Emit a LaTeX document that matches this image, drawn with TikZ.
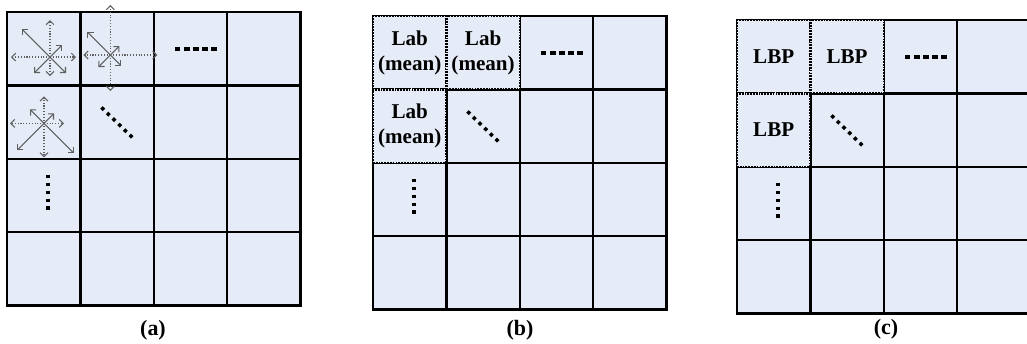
\documentclass[tikz,border=0pt]{standalone}
\usepackage{fontspec}
\setmainfont{Liberation Serif}
\usetikzlibrary{positioning, arrows.meta, calc}
\definecolor{cellfill}{RGB}{229,236,247}
\definecolor{gradgray}{RGB}{95,95,95}

\begin{document}
\begin{tikzpicture}[x=0.02cm, y=-0.02cm,
      cell/.style={draw, fill=cellfill, line width=1.3pt, minimum size=1.468cm, inner sep=0pt, outer sep=0pt},
      featcell/.style={cell, dash pattern=on 1pt off 0.6pt, align=center, font=\fontsize{12}{14.5}\selectfont\bfseries},
      dotrun/.style={line width=2pt, dash pattern=on 2pt off 2.5pt},
      dashrun/.style={line width=2pt, dash pattern=on 3.2pt off 2pt},
      gradaxis/.style={gradgray, densely dotted, line width=0.6pt, -{Straight Barb[angle=90:3.2pt]}},
      graddiag/.style={gradgray, line width=0.6pt, -{Straight Barb[angle=90:3.2pt]}},
      caption/.style={font=\fontsize{12.5}{14}\selectfont\bfseries}
    ]
    \useasboundingbox (0,0) rectangle (1027,343);

    % three 4x4 grids
    \foreach \p/\ox/\oy in {a/7/12, b/373/16, c/737/20}
      \foreach \c in {0,...,3}
        \foreach \r in {0,...,3}
          \node[cell] (\p-\c-\r) at ({\ox+36.7+73.4*\c}, {\oy+36.7+73.4*\r}) {};

    % (a) gradient stars
    \coordinate (s1) at ($(a-0-0.north west)+(43,45)$);
    \coordinate (s2) at ($(a-1-0.north west)+(30,43)$);
    \coordinate (s3) at ($(a-0-1.north west)+(37,38)$);
    \foreach \dx/\dy in {0/-37, -39/0, 26/0, 0/19}
      \draw[gradaxis] (s1) -- ++(\dx,\dy);
    \foreach \dx/\dy in {-28/-28, 12/-12, -16/16, 16/16}
      \draw[graddiag] (s1) -- ++(\dx,\dy);
    \foreach \dx/\dy in {0/-50, 0/36, -27/0, 47/0}
      \draw[gradaxis] (s2) -- ++(\dx,\dy);
    \foreach \dx/\dy in {-23/-23, 9/-9, -12/12, 11/11}
      \draw[graddiag] (s2) -- ++(\dx,\dy);
    \foreach \dx/\dy in {0/-27, -34/0, 20/0, 0/34}
      \draw[gradaxis] (s3) -- ++(\dx,\dy);
    \foreach \dx/\dy in {-14/-14, 10/-10, -27/27, 30/30}
      \draw[graddiag] (s3) -- ++(\dx,\dy);

    % (b) colour cells
    \node[featcell] (lab1) at (b-0-0) {Lab\\(mean)};
    \node[featcell] (lab2) at (b-1-0) {Lab\\(mean)};
    \node[featcell] (lab3) at (b-0-1) {Lab\\(mean)};

    % (c) texture cells
    \node[featcell] (lbp1) at (c-0-0) {LBP};
    \node[featcell] (lbp2) at (c-1-0) {LBP};
    \node[featcell] (lbp3) at (c-0-1) {LBP};

    % continuation dots
    \foreach \p in {a, b, c} {
      \draw[dashrun] ($(\p-2-0.north west)+(21,37)$) -- ($(\p-2-0.north west)+(63,37)$);
      \draw[dotrun] ($(\p-1-1.north west)+(21,22)$) -- ($(\p-1-1.north west)+(55,55)$);
      \draw[dotrun] ($(\p-0-2.north west)+(41,16)$) -- ($(\p-0-2.north west)+(41,55)$);
    }

    \node[caption] (capa) at (153,330) {(a)};
    \node[caption] (capb) at (520,330) {(b)};
    \node[caption] (capc) at (886,329) {(c)};
  \end{tikzpicture}
\end{document}
